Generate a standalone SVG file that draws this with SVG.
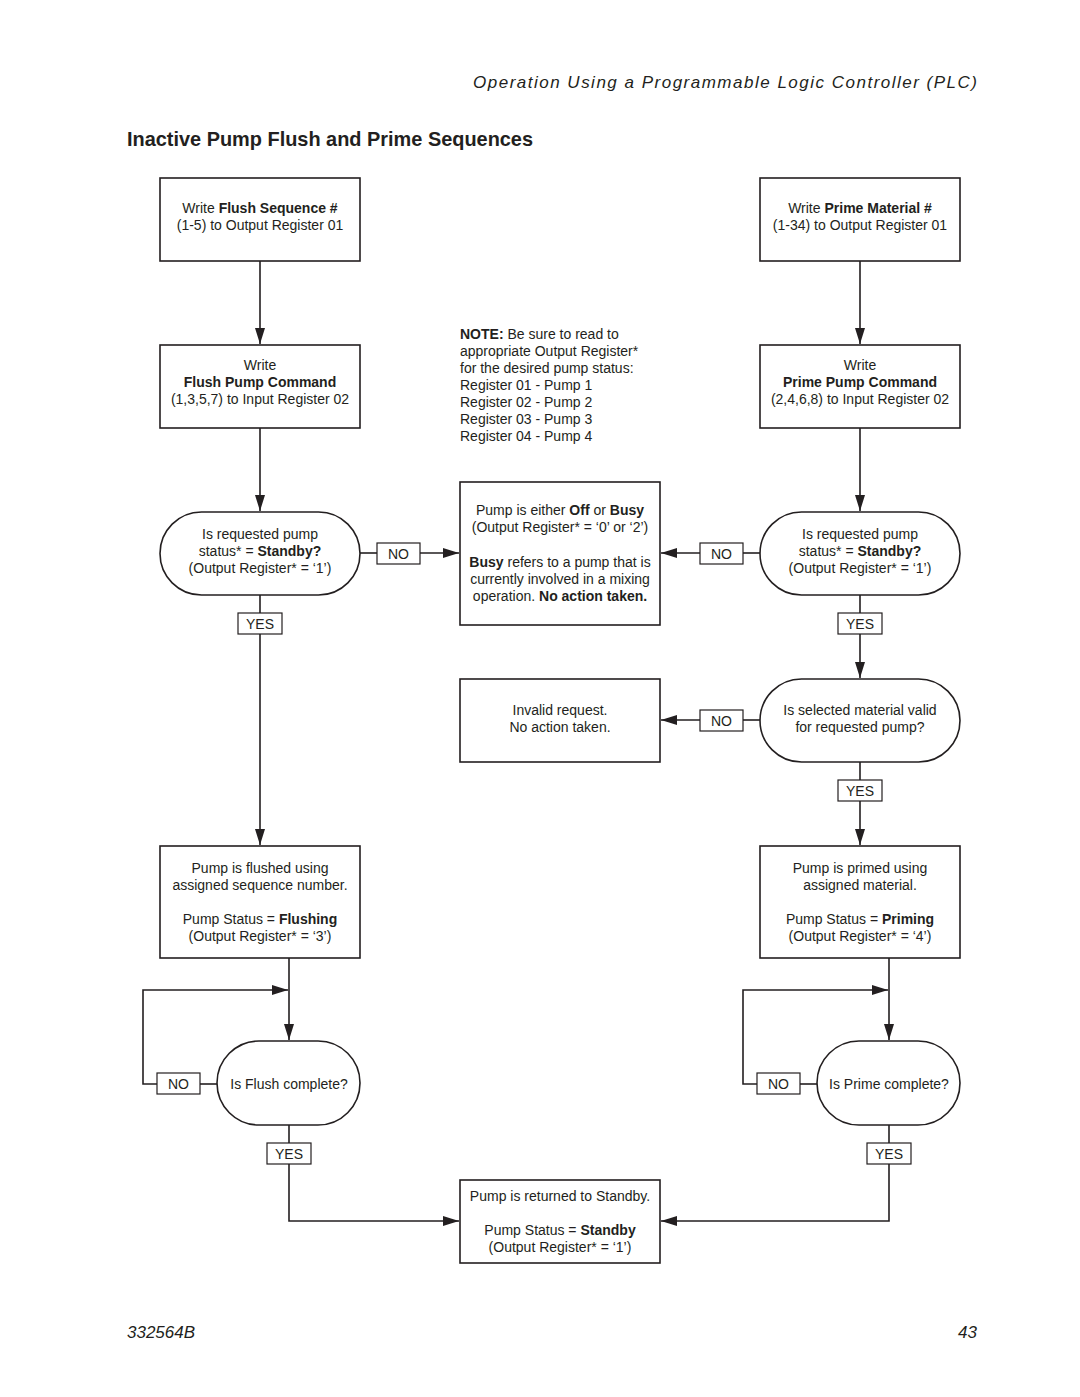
<svg xmlns="http://www.w3.org/2000/svg" width="1080" height="1397" viewBox="0 0 1080 1397">
<style>
.box{fill:#fff;stroke:#231f20;stroke-width:1.6}
.lbl{fill:#fff;stroke:#231f20;stroke-width:1.2}
.ln{fill:none;stroke:#231f20;stroke-width:1.6}
text{font-family:"Liberation Sans",Arial,sans-serif;font-size:14px;fill:#231f20}
.c{text-anchor:middle}
.b{font-weight:bold}
</style>
<defs>
<marker id="ah" viewBox="0 0 16 10" refX="16" refY="5" markerWidth="16" markerHeight="10" markerUnits="userSpaceOnUse" orient="auto">
<path d="M0,0 L16,5 L0,10 Z" fill="#231f20"/>
</marker>
</defs>
<rect width="1080" height="1397" fill="#fff"/>
<text x="977" y="88" text-anchor="end" font-style="italic" style="font-size:17px" textLength="504" lengthAdjust="spacing">Operation Using a Programmable Logic Controller (PLC)</text>
<text x="127" y="146" style="font-size:21px" font-weight="bold" textLength="406" lengthAdjust="spacingAndGlyphs">Inactive Pump Flush and Prime Sequences</text>

<g id="connectors">
<line class="ln" x1="260" y1="261" x2="260" y2="344" marker-end="url(#ah)"/>
<line class="ln" x1="260" y1="428" x2="260" y2="511" marker-end="url(#ah)"/>
<line class="ln" x1="360" y1="553" x2="377" y2="553"/>
<line class="ln" x1="420" y1="553" x2="459" y2="553" marker-end="url(#ah)"/>
<line class="ln" x1="260" y1="595" x2="260" y2="613"/>
<line class="ln" x1="260" y1="634" x2="260" y2="845" marker-end="url(#ah)"/>
<line class="ln" x1="289" y1="958" x2="289" y2="1040" marker-end="url(#ah)"/>
<polyline class="ln" points="157,1084 143,1084 143,990 288,990" marker-end="url(#ah)"/>
<line class="ln" x1="200" y1="1084" x2="217" y2="1084"/>
<line class="ln" x1="289" y1="1125" x2="289" y2="1143"/>
<polyline class="ln" points="289,1164 289,1221 459,1221" marker-end="url(#ah)"/>

<line class="ln" x1="860" y1="261" x2="860" y2="344" marker-end="url(#ah)"/>
<line class="ln" x1="860" y1="428" x2="860" y2="511" marker-end="url(#ah)"/>
<line class="ln" x1="760" y1="553" x2="743" y2="553"/>
<line class="ln" x1="700" y1="553" x2="661" y2="553" marker-end="url(#ah)"/>
<line class="ln" x1="860" y1="595" x2="860" y2="613"/>
<line class="ln" x1="860" y1="634" x2="860" y2="678" marker-end="url(#ah)"/>
<line class="ln" x1="760" y1="720" x2="743" y2="720"/>
<line class="ln" x1="700" y1="720" x2="661" y2="720" marker-end="url(#ah)"/>
<line class="ln" x1="860" y1="762" x2="860" y2="780"/>
<line class="ln" x1="860" y1="801" x2="860" y2="845" marker-end="url(#ah)"/>
<line class="ln" x1="889" y1="958" x2="889" y2="1040" marker-end="url(#ah)"/>
<polyline class="ln" points="757,1084 743,1084 743,990 888,990" marker-end="url(#ah)"/>
<line class="ln" x1="800" y1="1084" x2="817" y2="1084"/>
<line class="ln" x1="889" y1="1125" x2="889" y2="1143"/>
<polyline class="ln" points="889,1164 889,1221 661,1221" marker-end="url(#ah)"/>
</g>

<g id="flush-seq">
<rect class="box" x="160" y="178" width="200" height="83"/>
<text class="c" x="260" y="213">Write <tspan class="b">Flush Sequence #</tspan></text>
<text class="c" x="260" y="230">(1-5) to Output Register 01</text>
</g>
<g id="flush-cmd">
<rect class="box" x="160" y="345" width="200" height="83"/>
<text class="c" x="260" y="370">Write</text>
<text class="c b" x="260" y="387">Flush Pump Command</text>
<text class="c" x="260" y="404">(1,3,5,7) to Input Register 02</text>
</g>
<g id="flush-standby">
<rect class="box" x="160" y="512" width="200" height="83" rx="41.5"/>
<text class="c" x="260" y="539">Is requested pump</text>
<text class="c" x="260" y="556">status* = <tspan class="b">Standby?</tspan></text>
<text class="c" x="260" y="573">(Output Register* = ‘1’)</text>
</g>
<g id="no1"><rect class="lbl" x="377" y="543" width="43" height="21"/><text class="c" x="398.5" y="559">NO</text></g>
<g id="yes1"><rect class="lbl" x="238" y="613" width="44" height="21"/><text class="c" x="260" y="629">YES</text></g>
<g id="flushed">
<rect class="box" x="160" y="846" width="200" height="112"/>
<text class="c" x="260" y="873">Pump is flushed using</text>
<text class="c" x="260" y="890">assigned sequence number.</text>
<text class="c" x="260" y="924">Pump Status = <tspan class="b">Flushing</tspan></text>
<text class="c" x="260" y="941">(Output Register* = ‘3’)</text>
</g>
<g id="flush-complete">
<rect class="box" x="217" y="1041" width="143" height="84" rx="42"/>
<text class="c" x="289" y="1089">Is Flush complete?</text>
</g>
<g id="no3"><rect class="lbl" x="157" y="1073" width="43" height="21"/><text class="c" x="178.5" y="1089">NO</text></g>
<g id="yes3"><rect class="lbl" x="267" y="1143" width="44" height="21"/><text class="c" x="289" y="1159">YES</text></g>

<g id="note">
<text x="460" y="339"><tspan class="b">NOTE:</tspan> Be sure to read to</text>
<text x="460" y="356">appropriate Output Register*</text>
<text x="460" y="373">for the desired pump status:</text>
<text x="460" y="390">Register 01 - Pump 1</text>
<text x="460" y="407">Register 02 - Pump 2</text>
<text x="460" y="424">Register 03 - Pump 3</text>
<text x="460" y="441">Register 04 - Pump 4</text>
</g>
<g id="off-busy">
<rect class="box" x="460" y="482" width="200" height="143"/>
<text class="c" x="560" y="515">Pump is either <tspan class="b">Off</tspan> or <tspan class="b">Busy</tspan></text>
<text class="c" x="560" y="532">(Output Register* = ‘0’ or ‘2’)</text>
<text class="c" x="560" y="567"><tspan class="b">Busy</tspan> refers to a pump that is</text>
<text class="c" x="560" y="584">currently involved in a mixing</text>
<text class="c" x="560" y="601">operation. <tspan class="b">No action taken.</tspan></text>
</g>
<g id="invalid">
<rect class="box" x="460" y="679" width="200" height="83"/>
<text class="c" x="560" y="715">Invalid request.</text>
<text class="c" x="560" y="732">No action taken.</text>
</g>
<g id="standby">
<rect class="box" x="460" y="1180" width="200" height="83"/>
<text class="c" x="560" y="1201">Pump is returned to Standby.</text>
<text class="c" x="560" y="1235">Pump Status = <tspan class="b">Standby</tspan></text>
<text class="c" x="560" y="1252">(Output Register* = ‘1’)</text>
</g>

<g id="prime-mat">
<rect class="box" x="760" y="178" width="200" height="83"/>
<text class="c" x="860" y="213">Write <tspan class="b">Prime Material #</tspan></text>
<text class="c" x="860" y="230">(1-34) to Output Register 01</text>
</g>
<g id="prime-cmd">
<rect class="box" x="760" y="345" width="200" height="83"/>
<text class="c" x="860" y="370">Write</text>
<text class="c b" x="860" y="387">Prime Pump Command</text>
<text class="c" x="860" y="404">(2,4,6,8) to Input Register 02</text>
</g>
<g id="prime-standby">
<rect class="box" x="760" y="512" width="200" height="83" rx="41.5"/>
<text class="c" x="860" y="539">Is requested pump</text>
<text class="c" x="860" y="556">status* = <tspan class="b">Standby?</tspan></text>
<text class="c" x="860" y="573">(Output Register* = ‘1’)</text>
</g>
<g id="no2"><rect class="lbl" x="700" y="543" width="43" height="21"/><text class="c" x="721.5" y="559">NO</text></g>
<g id="yes2"><rect class="lbl" x="838" y="613" width="44" height="21"/><text class="c" x="860" y="629">YES</text></g>
<g id="valid">
<rect class="box" x="760" y="679" width="200" height="83" rx="41.5"/>
<text class="c" x="860" y="715">Is selected material valid</text>
<text class="c" x="860" y="732">for requested pump?</text>
</g>
<g id="no4"><rect class="lbl" x="700" y="710" width="43" height="21"/><text class="c" x="721.5" y="726">NO</text></g>
<g id="yes4"><rect class="lbl" x="838" y="780" width="44" height="21"/><text class="c" x="860" y="796">YES</text></g>
<g id="primed">
<rect class="box" x="760" y="846" width="200" height="112"/>
<text class="c" x="860" y="873">Pump is primed using</text>
<text class="c" x="860" y="890">assigned material.</text>
<text class="c" x="860" y="924">Pump Status = <tspan class="b">Priming</tspan></text>
<text class="c" x="860" y="941">(Output Register* = ‘4’)</text>
</g>
<g id="prime-complete">
<rect class="box" x="817" y="1041" width="143" height="84" rx="42"/>
<text class="c" x="889" y="1089">Is Prime complete?</text>
</g>
<g id="no5"><rect class="lbl" x="757" y="1073" width="43" height="21"/><text class="c" x="778.5" y="1089">NO</text></g>
<g id="yes5"><rect class="lbl" x="867" y="1143" width="44" height="21"/><text class="c" x="889" y="1159">YES</text></g>

<text x="127" y="1338" font-style="italic" style="font-size:17px">332564B</text>
<text x="977" y="1338" text-anchor="end" font-style="italic" style="font-size:17px">43</text>
</svg>
